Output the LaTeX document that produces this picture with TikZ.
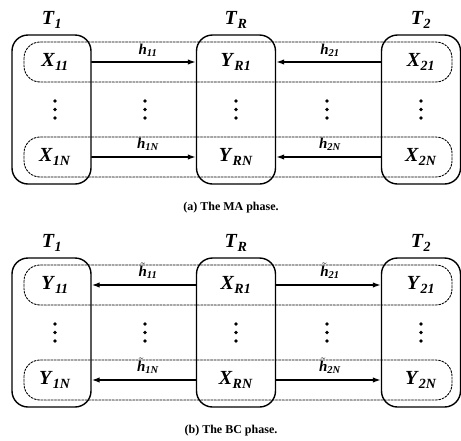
\documentclass[tikz,border=0pt]{standalone}
\usepackage{fontspec}
\setmainfont{Liberation Serif}
\usetikzlibrary{arrows.meta}
\newcommand{\sym}[2]{\textbf{\textit{#1}}\textsubscript{\textbf{\textit{#2}}}}
\newcommand{\chan}[2]{\textbf{\textit{#1}}\textsubscript{\textbf{\textit{#2}}}}
\newcommand{\tchan}[1]{$\tilde{\hbox{\bfseries\itshape h}}$\textsubscript{\textbf{\textit{#1}}}}

\begin{document}
\begin{tikzpicture}[x=1pt,y=-1pt,>={Latex[length=8pt,width=5.5pt]},line cap=round,line join=round]
\useasboundingbox (0,0) rectangle (461,440);
\tikzset{tbox/.style={draw,line width=1.4pt,rounded corners=16pt,minimum width=79pt,minimum height=149pt,inner sep=0pt},
  rowbox/.style={draw,line width=0.9pt,dash pattern=on 2pt off 1.4pt,rounded corners=16pt},
  link/.style={line width=1.4pt,->},
  sig/.style={font=\fontsize{20}{22}\selectfont},
  term/.style={font=\fontsize{20}{22}\selectfont},
  gain/.style={font=\fontsize{15}{17}\selectfont},
  caption/.style={font=\fontsize{12}{14}\selectfont\bfseries}}
% (a) MA phase
\node[tbox] (aT1) at (51.5,109.5) {}; \node[tbox] (aTR) at (236,109.5) {}; \node[tbox] (aT2) at (421,109.5) {};
\node[term] (aL1) at (52,20) {\sym{T}{1}}; \node[term] (aLR) at (236,20) {\sym{T}{R}}; \node[term] (aL2) at (421,20) {\sym{T}{2}};
\draw[rowbox] (24,42) rectangle (452,82); \draw[rowbox] (24,137) rectangle (452,177);
\node[sig] (aX11) at (55,62) {\sym{X}{11}}; \node[sig] (aX1N) at (55,157) {\sym{X}{1N}};
\node[sig] (aYR1) at (236,62) {\sym{Y}{R1}}; \node[sig] (aYRN) at (236,157) {\sym{Y}{RN}};
\node[sig] (aX21) at (421,62) {\sym{X}{21}}; \node[sig] (aX2N) at (421,157) {\sym{X}{2N}};
\draw[link] (aT1.east |- aX11) -- (aTR.west |- aYR1); \draw[link] (aT1.east |- aX1N) -- (aTR.west |- aYRN);
\draw[link] (aT2.west |- aX21) -- (aTR.east |- aYR1); \draw[link] (aT2.west |- aX2N) -- (aTR.east |- aYRN);
\node[gain] (ah11) at (148,50) {\chan{h}{11}}; \node[gain] (ah1N) at (148,144) {\chan{h}{1N}};
\node[gain] (ah21) at (330,50) {\chan{h}{21}}; \node[gain] (ah2N) at (330,144) {\chan{h}{2N}};
\foreach \x in {55,145,236,327,421} \foreach \y in {101,109.5,118} \fill (\x,\y) circle (1.9);
\node[caption] (acap) at (231,208) {(a) The MA phase.};
% (b) BC phase
\node[tbox] (bT1) at (51.5,332.5) {}; \node[tbox] (bTR) at (236,332.5) {}; \node[tbox] (bT2) at (421,332.5) {};
\node[term] (bL1) at (52,243) {\sym{T}{1}}; \node[term] (bLR) at (236,243) {\sym{T}{R}}; \node[term] (bL2) at (421,243) {\sym{T}{2}};
\draw[rowbox] (24,265) rectangle (452,305); \draw[rowbox] (24,360) rectangle (452,400);
\node[sig] (bY11) at (55,285) {\sym{Y}{11}}; \node[sig] (bY1N) at (55,380) {\sym{Y}{1N}};
\node[sig] (bXR1) at (236,285) {\sym{X}{R1}}; \node[sig] (bXRN) at (236,380) {\sym{X}{RN}};
\node[sig] (bY21) at (421,285) {\sym{Y}{21}}; \node[sig] (bY2N) at (421,380) {\sym{Y}{2N}};
\draw[link] (bTR.west |- bXR1) -- (bT1.east |- bY11); \draw[link] (bTR.west |- bXRN) -- (bT1.east |- bY1N);
\draw[link] (bTR.east |- bXR1) -- (bT2.west |- bY21); \draw[link] (bTR.east |- bXRN) -- (bT2.west |- bY2N);
\node[gain] (bh11) at (148,271) {\tchan{11}}; \node[gain] (bh1N) at (148,366) {\tchan{1N}};
\node[gain] (bh21) at (330,271) {\tchan{21}}; \node[gain] (bh2N) at (330,366) {\tchan{2N}};
\foreach \x in {55,145,236,327,421} \foreach \y in {324,332.5,341} \fill (\x,\y) circle (1.9);
\node[caption] (bcap) at (231,431) {(b) The BC phase.};
\end{tikzpicture}
\end{document}
